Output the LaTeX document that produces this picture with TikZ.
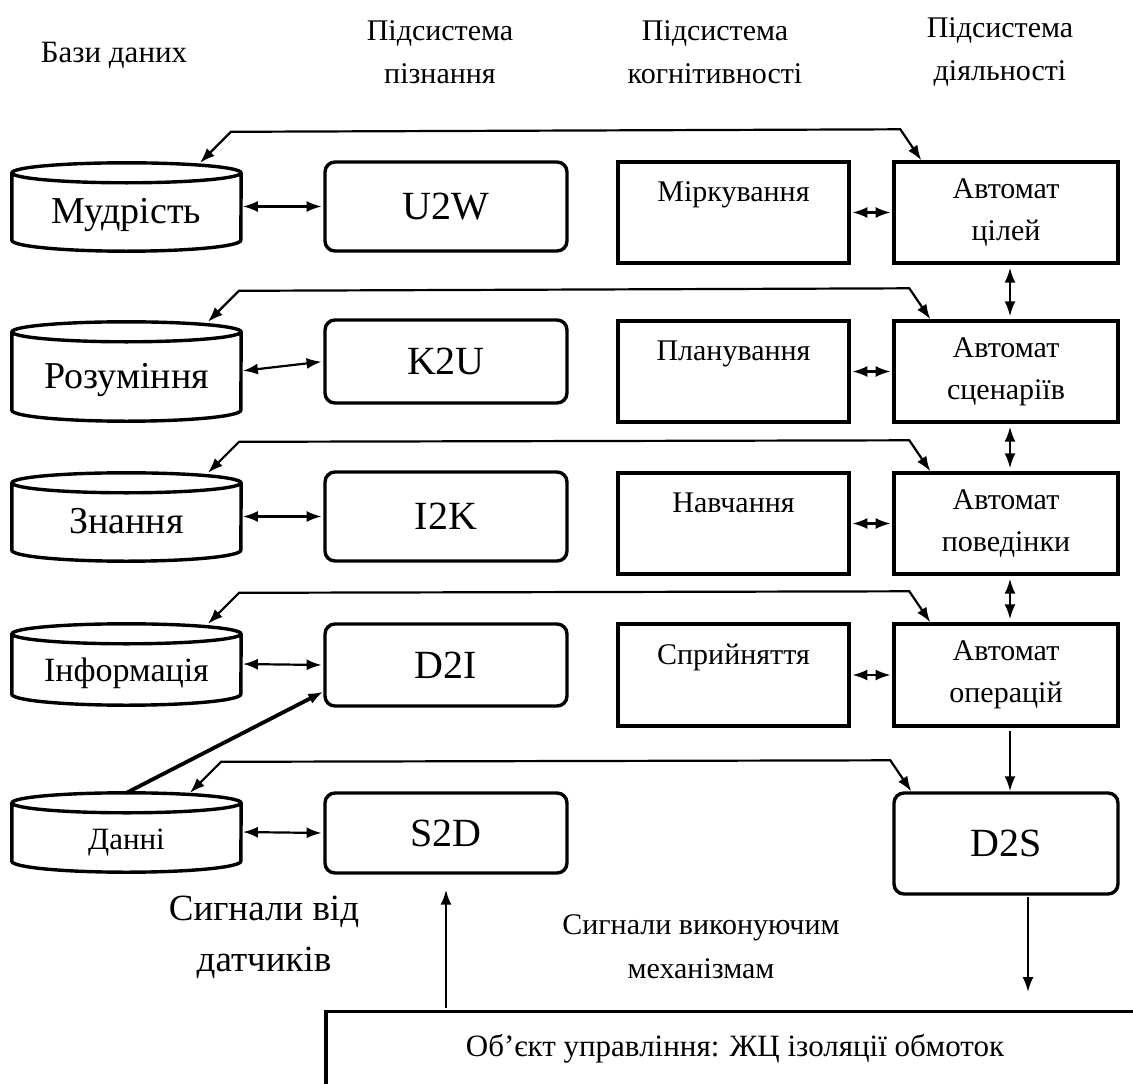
\documentclass[tikz,border=0pt]{standalone}
\usepackage{fontspec}
\setmainfont{Liberation Serif}
\usepackage{tikz}
\usetikzlibrary{shapes.geometric, arrows.meta, positioning, calc}
\tikzstyle{dbase} = [rectangle, minimum width=229pt, inner sep=0pt, text height=34pt, text depth=0pt, font=\fontsize{38}{40}\selectfont]
\tikzstyle{codebox} = [rectangle, rounded corners=10pt, minimum width=242pt, minimum height=86pt, draw=black, line width=3.4pt, font=\fontsize{40}{44}\selectfont]
\tikzstyle{cogbox} = [rectangle, minimum width=231pt, minimum height=101pt, draw=black, line width=3.4pt, align=center, font=\fontsize{30}{42}\selectfont]
\tikzstyle{autobox} = [rectangle, minimum width=224pt, minimum height=101pt, draw=black, line width=3.4pt, align=center, font=\fontsize{30}{42}\selectfont]
\tikzstyle{headtext} = [align=center, font=\fontsize{30}{43}\selectfont]
\tikzstyle{arrow} = [line width=2.2pt, -{Latex[length=15pt,width=11pt]}]
\tikzstyle{biarrow} = [line width=2.2pt, {Latex[length=15pt,width=11pt]}-{Latex[length=15pt,width=11pt]}]

\begin{document}
\begin{tikzpicture}[x=1pt, y=-1pt]
\useasboundingbox (0,0) rectangle (1133,1084);

% Headings
\node (hdb) [headtext, font=\fontsize{31}{43}\selectfont] at (114,55) {Бази даних};
\node (hcog) [headtext] at (440,52) {Підсистема\\пізнання};
\node (hkog) [headtext] at (715,52) {Підсистема\\когнітивності};
\node (hact) [headtext] at (1000,52) {Підсистема\\діяльності};

% Databases
\node (wis) [dbase, minimum height=67pt] at (126.5,206.5) {Мудрість};
\node (und) [dbase, minimum height=78pt] at (126.5,371) {Розуміння};
\node (kno) [dbase, minimum height=67pt] at (126.5,516.5) {Знання};
\node (inf) [dbase, minimum height=60pt, font=\fontsize{34}{36}\selectfont] at (126.5,664) {Інформація};
\node (dat) [dbase, minimum height=58pt, font=\fontsize{31}{34}\selectfont] at (126.5,832) {Данні};
\foreach \c in {wis,und,kno,inf,dat}
  \draw[line width=3.4pt] (\c.north west) -- (\c.south west)
    arc[start angle=180, end angle=360, x radius=114.5pt, y radius=11pt] -- (\c.north east)
    (\c.north) ellipse[x radius=114.5pt, y radius=10pt];

% Cognition
\node (u2w) [codebox, minimum height=89pt] at (446,206.5) {U2W};
\node (k2u) [codebox, minimum height=83pt] at (446,361.5) {K2U};
\node (i2k) [codebox, minimum height=89pt] at (446,516.5) {I2K};
\node (d2i) [codebox, minimum height=82pt] at (446,665) {D2I};
\node (s2d) [codebox, minimum height=80pt] at (446,833) {S2D};

% Cognitivity
\node (mir) [cogbox] at (733.5,212.5) {Міркування\\~};
\node (pla) [cogbox] at (733.5,371.5) {Планування\\~};
\node (lea) [cogbox] at (733.5,523.5) {Навчання\\~};
\node (per) [cogbox, minimum height=102pt] at (733.5,675) {Сприйняття\\~};

% Activity
\node (aut1) [autobox] at (1006,212.5) {Автомат\\цілей};
\node (aut2) [autobox] at (1006,371.5) {Автомат\\сценаріїв};
\node (aut3) [autobox] at (1006,523.5) {Автомат\\поведінки};
\node (aut4) [autobox, minimum height=102pt] at (1006,675) {Автомат\\операцій};
\node (d2s) [codebox, minimum width=224pt, minimum height=101pt] at (1006,843.5) {D2S};

\node (obj) [rectangle, draw=black, line width=3.4pt, anchor=north, minimum width=818pt, inner ysep=20pt, text height=25pt, text depth=70pt, font=\fontsize{31}{34}\selectfont] at (735,1010) {Об'єкт управління: ЖЦ ізоляції обмоток};

\node (sens) [headtext, font=\fontsize{37}{51}\selectfont] at (264,937) {Сигнали від\\датчиків};
\node (acts) [headtext, font=\fontsize{30}{44}\selectfont] at (701,947) {Сигнали виконуючим\\механізмам};
\coordinate (act) at (1028,992);

% Arrows
\foreach \a/\b in {wis/u2w, und/k2u, kno/i2k, inf/d2i, dat/s2d, mir/aut1, pla/aut2, lea/aut3, per/aut4}
  \draw[biarrow, shorten <=1.7pt, shorten >=1.7pt] (\a.east) -- (\b.west);
\foreach \a/\b in {aut1/aut2, aut2/aut3, aut3/aut4}
  \draw[biarrow, shorten <=3pt, shorten >=3pt] ([xshift=4pt]\a.south) -- ([xshift=4pt]\b.north);
\foreach \c/\a/\l/\r in {wis/aut1/73.5/29, und/aut2/81.5/38, kno/aut3/81.5/38, inf/aut4/81.5/38, dat/d2s/63.5/19}
  \draw[biarrow, line join=miter] ($(\c.north)+(\l,-10)$) -- ++(31,-31) -- ($(\a.north west)+(\r-21,-31)$) -- ($(\a.north west)+(\r,0)$);
\draw[arrow, line width=3.8pt] ($(dat.north)+(0,-10)$) -- ($(d2i.south west)+(0,-16)$);
\draw[arrow, shorten <=3pt] ([xshift=4pt]aut4.south) -- ([xshift=4pt]d2s.north);
\draw[arrow, shorten <=1.7pt] (d2s.south -| act) -- (act);
\draw[arrow, shorten <=1.7pt, shorten >=15pt] (obj.north -| s2d.south) -- (s2d.south);

\end{tikzpicture}
\end{document}
